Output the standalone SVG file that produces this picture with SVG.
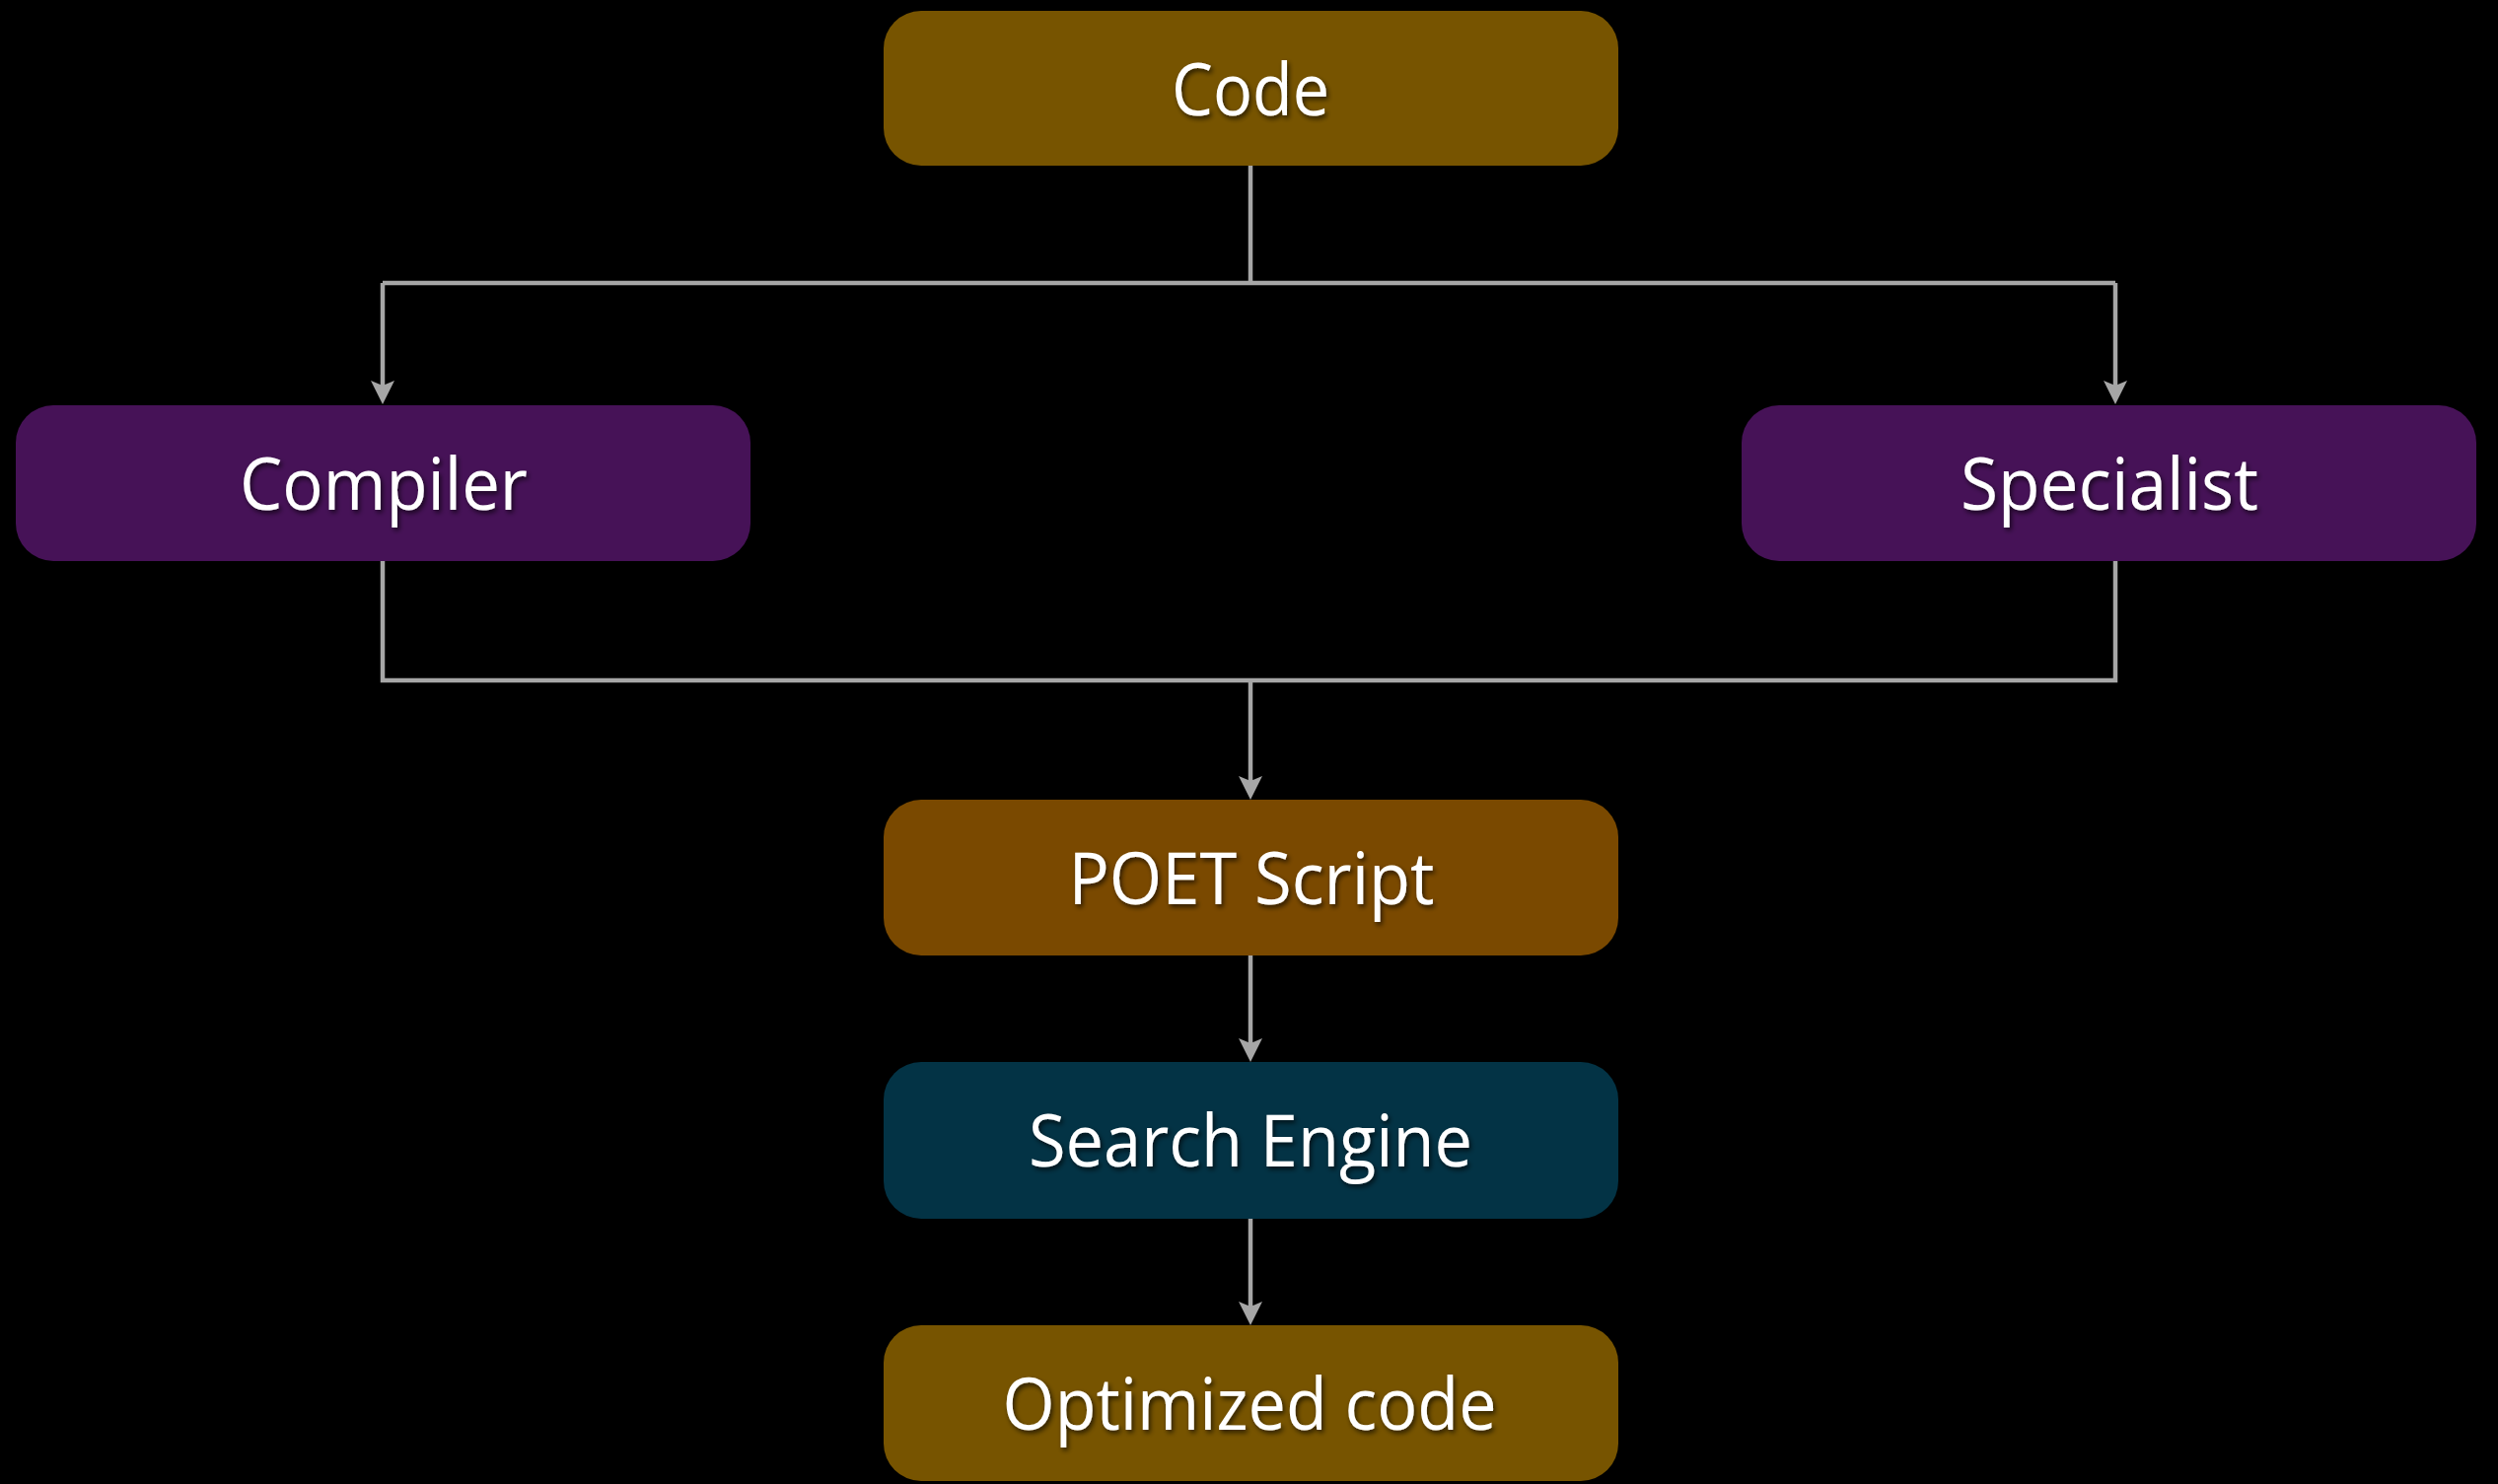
<svg xmlns="http://www.w3.org/2000/svg" width="2533" height="1505" viewBox="0 0 2533 1505">
  <style>
    .box { stroke: none; }
    .gold { fill: #775400; }
    .amber { fill: #7a4900; }
    .violet { fill: #461257; }
    .teal { fill: #033345; }
    .label { font-family: "Open Sans", "Liberation Sans", sans-serif; font-size: 74px; fill: #ffffff; text-anchor: middle; filter: url(#txtShadow); }
    .wire { fill: none; stroke: #a6a6a6; stroke-width: 4.5; }
  </style>
  <defs>
    <filter id="txtShadow" x="-10%" y="-30%" width="120%" height="160%">
      <feDropShadow dx="2" dy="3" stdDeviation="2.5" flood-color="#000000" flood-opacity="0.65"/>
    </filter>
    <marker id="arrow" viewBox="0 -13 25 26" markerWidth="25" markerHeight="26" refX="10" refY="0" orient="auto" markerUnits="userSpaceOnUse">
      <path d="M0,-12 L24,0 L0,12 L5,0 Z" fill="#a6a6a6"/>
    </marker>
  </defs>

  <rect x="0" y="0" width="2533" height="1505" fill="#000000"/>

  <!-- connectors -->
  <g id="connectors">
    <path class="wire" d="M1268,168 V287 M388,287 H2145" />
    <path class="wire" d="M388,287 V396" marker-end="url(#arrow)"/>
    <path class="wire" d="M2145,287 V396" marker-end="url(#arrow)"/>
    <path class="wire" d="M388,569 V690 H2145 V569" />
    <path class="wire" d="M1268,690 V797" marker-end="url(#arrow)"/>
    <path class="wire" d="M1268,969 V1063" marker-end="url(#arrow)"/>
    <path class="wire" d="M1268,1236 V1330" marker-end="url(#arrow)"/>
  </g>

  <g id="node-code">
    <rect class="box gold" x="896" y="11" width="745" height="157" rx="38"/>
    <text class="label" x="1268" y="117" textLength="160" lengthAdjust="spacingAndGlyphs">Code</text>
  </g>

  <g id="node-compiler">
    <rect class="box violet" x="16" y="411" width="745" height="158" rx="38"/>
    <text class="label" x="389" y="517" textLength="292" lengthAdjust="spacingAndGlyphs">Compiler</text>
  </g>

  <g id="node-specialist">
    <rect class="box violet" x="1766" y="411" width="745" height="158" rx="38"/>
    <text class="label" x="2139" y="517" textLength="302" lengthAdjust="spacingAndGlyphs">Specialist</text>
  </g>

  <g id="node-poet-script">
    <rect class="box amber" x="896" y="811" width="745" height="158" rx="38"/>
    <text class="label" x="1269" y="917" textLength="371" lengthAdjust="spacingAndGlyphs">POET Script</text>
  </g>

  <g id="node-search-engine">
    <rect class="box teal" x="896" y="1077" width="745" height="159" rx="38"/>
    <text class="label" x="1268" y="1183" textLength="450" lengthAdjust="spacingAndGlyphs">Search Engine</text>
  </g>

  <g id="node-optimized-code">
    <rect class="box gold" x="896" y="1344" width="745" height="158" rx="38"/>
    <text class="label" x="1267" y="1450" textLength="501" lengthAdjust="spacingAndGlyphs">Optimized code</text>
  </g>
</svg>
